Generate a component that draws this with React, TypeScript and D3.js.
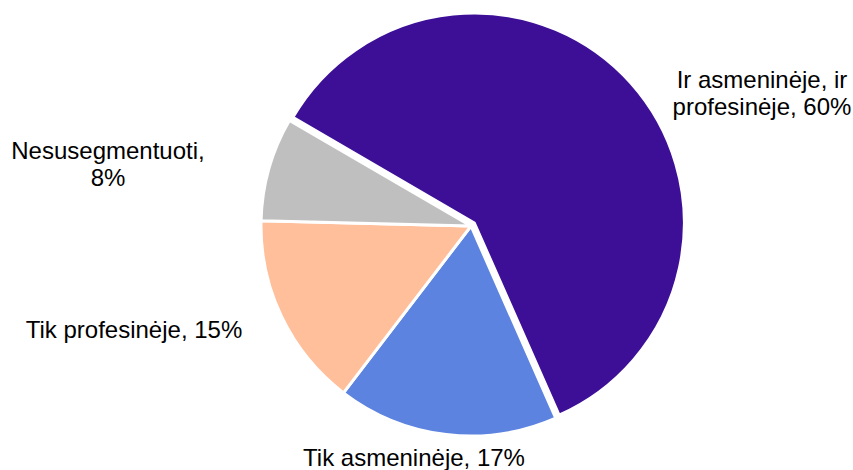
import React from "react";
import * as d3 from "d3";

const categories = ["Ir asmeninėje, ir profesinėje", "Tik asmeninėje", "Tik profesinėje", "Nesusegmentuoti"];
const values = [60, 17, 15, 8];
const colors = ["#3d0f97", "#5b83df", "#ffbf9b", "#bfbfbf"];
const labelLines = [
  ["Ir asmeninėje, ir", "profesinėje, 60%"],
  ["Tik asmeninėje, 17%"],
  ["Tik profesinėje, 15%"],
  ["Nesusegmentuoti,", "8%"],
];
const labelPos: [number, number][] = [
  [762, 88],
  [414, 466],
  [134, 338],
  [108, 159],
];

export default function App() {
  const width = 853;
  const height = 470;
  const cx = 471;
  const cy = 226;
  const r = 210;
  const explode = [4.5, 0, 0, 0];
  const start = (-59.8 * Math.PI) / 180;
  const pie = d3.pie<number>().sort(null).startAngle(start).endAngle(start + 2 * Math.PI);
  const arcs = pie(values);
  const arc = d3.arc<d3.PieArcDatum<number>>().innerRadius(0).outerRadius(r);
  return (
    <svg
      width={width}
      height={height}
      style={{ position: "absolute", left: 0, top: 0 }}
      fontFamily="'Liberation Sans', Arial, sans-serif"
    >
      <rect width={width} height={height} fill="#fff" />
      <g transform={`translate(${cx},${cy})`}>
        {arcs.map((a, i) => {
          const mid = (a.startAngle + a.endAngle) / 2;
          const dx = Math.sin(mid) * explode[i];
          const dy = -Math.cos(mid) * explode[i];
          return (
            <path
              key={categories[i]}
              d={arc(a) || ""}
              transform={`translate(${dx},${dy})`}
              fill={colors[i]}
              stroke="#fff"
              strokeWidth={3}
              strokeLinejoin="round"
            />
          );
        })}
      </g>
      {labelLines.map((lines, i) => (
        <text
          key={i}
          x={labelPos[i][0]}
          y={labelPos[i][1]}
          textAnchor="middle"
          fontSize={24}
          fill="#000"
        >
          {lines.map((l, j) => (
            <tspan key={j} x={labelPos[i][0]} dy={j === 0 ? 0 : 27}>
              {l}
            </tspan>
          ))}
        </text>
      ))}
    </svg>
  );
}
